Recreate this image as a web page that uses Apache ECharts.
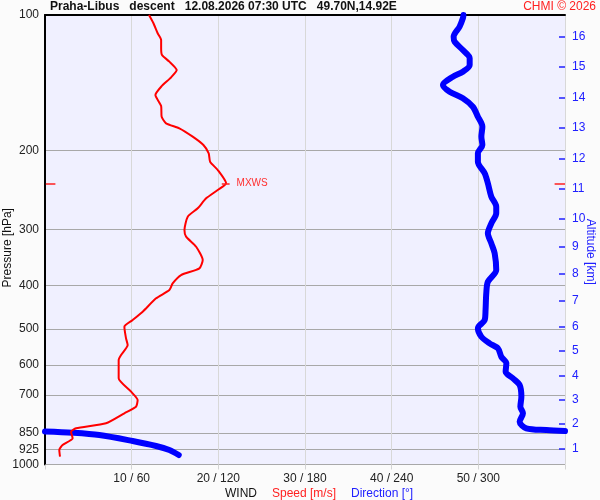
<!DOCTYPE html>
<html>
<head>
<meta charset="utf-8">
<script src="https://cdn.jsdelivr.net/npm/echarts@6/dist/echarts.min.js"></script>
<style>
  html, body { margin: 0; padding: 0; background: #fbfbfb; }
  #chart { width: 600px; height: 500px; }
</style>
</head>
<body>
<div id="chart"></div>
<script>
// wind speed profile [m/s] vs pressure [hPa]
const speedPres = [100, 104.2, 109.8, 113.7, 118.4, 122.8, 127.0, 132.6, 137.6, 144.4, 150.7, 159.4, 168.4, 174.2,
  178.7, 186.5, 194.6, 203.1, 212.0, 221.2, 236.8, 245.1, 255.8, 269.2, 281.0, 300.8, 311.3, 327.7, 350.9, 366.1,
  378.9, 395.4, 409.2, 426.9, 457.2, 477.0, 493.5, 524.0, 542.3, 570.7, 585.5, 643.2, 688.6, 718.6, 743.8, 769.4,
  809.8, 830.9, 845.4, 874.5, 905.0, 928.4, 961.0];
const speedVals = [12.0, 12.5, 13.0, 13.4, 13.4, 13.5, 14.35, 15.2, 14.55, 13.4, 12.74, 13.4, 13.46, 13.97,
  15.5, 17.04, 18.28, 18.89, 19.05, 19.93, 20.9, 19.93, 18.59, 17.62, 16.47, 16.09, 16.28, 17.44, 18.2, 17.82,
  15.7, 14.73, 14.35, 12.82, 11.27, 10.12, 9.16, 9.35, 9.54, 8.78, 8.5, 8.5, 9.93, 10.69, 10.5, 9.16,
  7.04, 3.58, 3.0, 3.19, 2.03, 1.65, 1.73];

// wind direction [deg], upper part (up to 360) and lower part (after wrap to 0)
const dirUpperPres = [100, 101.7, 106.2, 111.8, 114.7, 119.7, 124.8, 129.2, 133.7, 137.2, 143.1, 148.1, 153.2, 160.0,
  168.4, 177.2, 186.5, 194.6, 203.1, 212.0, 225.0, 236.8, 253.7, 267.0, 276.2, 290.7, 305.9, 322.1, 338.9, 369.3,
  392.2, 416.1, 453.2, 477.0, 497.7, 519.8, 537.7, 551.6, 575.6, 595.5, 621.7, 643.2, 665.7, 706.6, 743.8, 769.4,
  803.3, 830.9, 838.1, 842.5];
const dirUpperVals = [289.7, 289.3, 287.0, 282.9, 283.6, 289.3, 294.0, 294.0, 289.3, 282.4, 275.5, 280.1, 289.3, 296.2,
  299.7, 302.8, 302.1, 302.8, 299.7, 299.7, 304.4, 306.6, 309.0, 312.4, 312.4, 309.0, 306.6, 309.0, 311.3, 312.4,
  306.6, 305.5, 305.0, 304.4, 299.7, 302.1, 307.8, 313.6, 315.9, 319.4, 318.9, 324.0, 328.6, 329.8, 329.1, 330.9,
  328.6, 333.2, 347.1, 360.0];
const dirLowerPres = [844.6, 849.9, 859.9, 886.8, 909.6, 928.4, 952.6];
const dirLowerVals = [0, 19.1, 37.6, 60.7, 76.9, 86.1, 92.6];

// maximum wind
const mxwsPres = 236.8;
const mxwsSpeed = 20.9;

// axis ticks
const presTicks = [100, 200, 300, 400, 500, 600, 700, 850, 925, 1000];
const speedTicks = [10, 20, 30, 40, 50];
const altKm = [1, 2, 3, 4, 5, 6, 7, 8, 9, 10, 11, 12, 13, 14, 15, 16];
const altPres = [920.4, 811.2, 718.7, 634.6, 559.1, 493.6, 431.2, 377.0, 327.7, 283.3, 243.5, 209.1, 178.1, 153.0, 130.5, 111.9];

const FONT = 'Liberation Sans, Arial, sans-serif';

function pairs(xs, ys) {
  return ys.map((y, i) => [xs[i], y]);
}

function altLabel(v) {
  let best = 0;
  altPres.forEach((p, i) => {
    if (Math.abs(p - v) < Math.abs(altPres[best] - v)) best = i;
  });
  return String(altKm[best]);
}

const dirStyle = { color: '#0000ff', width: 6, cap: 'round', join: 'round' };

const option = {
  animation: false,
  textStyle: { fontFamily: FONT },
  title: [
    {
      text: 'Praha-Libus   descent   12.08.2026 07:30 UTC   49.70N,14.92E',
      left: 50, top: 1, padding: 0,
      textStyle: { fontSize: 12, fontWeight: 'bold', color: '#111', fontFamily: FONT },
    },
    {
      text: 'CHMI © 2026',
      right: 4, top: 1, padding: 0,
      textStyle: { fontSize: 12, fontWeight: 'normal', color: '#ff2020', fontFamily: FONT },
    },
    {
      text: '{a|WIND}   {b|Speed [m/s]}   {c|Direction [°]}',
      left: 225, top: 485, padding: 0,
      textStyle: {
        fontFamily: FONT, fontWeight: 'normal',
        rich: {
          a: { fontSize: 12, color: '#111', fontWeight: 'normal', fontFamily: FONT },
          b: { fontSize: 12, color: '#ff2020', fontWeight: 'normal', fontFamily: FONT },
          c: { fontSize: 12, color: '#2020ff', fontWeight: 'normal', fontFamily: FONT },
        },
      },
    },
  ],
  grid: {
    left: 45, top: 15, right: 35, bottom: 35.5,
    outerBoundsMode: 'none', containLabel: false,
    show: true, backgroundColor: '#f0f0ff', borderWidth: 0,
  },
  xAxis: [
    {
      type: 'value', min: 0, max: 60, interval: 10,
      axisLine: { show: false, onZero: false },
      axisTick: { show: true, length: 5, lineStyle: { color: '#d4d4d4' } },
      splitLine: { show: true, lineStyle: { color: '#d8d8d8', width: 1 } },
      axisLabel: {
        customValues: speedTicks,
        formatter: v => v + ' / ' + v * 6,
        color: '#222', fontSize: 12, margin: 8, fontFamily: FONT,
      },
    },
    {
      type: 'value', min: 0, max: 360, position: 'top',
      axisLine: { show: true, onZero: false, lineStyle: { color: '#000', width: 2 } },
      axisTick: { show: false },
      axisLabel: { show: false },
      splitLine: { show: false },
    },
  ],
  yAxis: [
    {
      type: 'log', logBase: 10, min: 100, max: 1000, inverse: true,
      name: 'Pressure [hPa]', nameLocation: 'middle', nameRotate: 90, nameGap: 31,
      nameMoveOverlap: false,
      nameTextStyle: { color: '#111', fontSize: 12, fontFamily: FONT, padding: [0, 16, 0, 0] },
      axisLine: { show: true, onZero: false, lineStyle: { color: '#000', width: 2 } },
      axisTick: { show: false, customValues: presTicks },
      splitLine: { show: true, lineStyle: { color: '#a8a8a8', width: 1 } },
      axisLabel: {
        customValues: presTicks, formatter: v => String(Math.round(v)),
        color: '#222', fontSize: 12, margin: 6, fontFamily: FONT,
      },
    },
    {
      type: 'log', logBase: 10, min: 100, max: 1000, inverse: true, position: 'right',
      name: 'Altitude [km]', nameLocation: 'middle', nameRotate: -90, nameGap: 19,
      nameMoveOverlap: false,
      nameTextStyle: { color: '#2020ff', fontSize: 12, fontFamily: FONT, padding: [0, 0, 0, 24] },
      axisLine: { show: false, onZero: false },
      axisTick: { show: true, inside: true, length: 6, customValues: altPres, lineStyle: { color: '#2020ff', width: 1.5 } },
      splitLine: { show: false },
      axisLabel: {
        customValues: altPres, formatter: altLabel,
        color: '#2020ff', fontSize: 12, margin: 7, fontFamily: FONT,
      },
    },
  ],
  series: [
    {
      name: 'Direction', type: 'line', xAxisIndex: 1, yAxisIndex: 0,
      data: pairs(dirUpperVals, dirUpperPres),
      showSymbol: false, smooth: 0.3, lineStyle: dirStyle,
    },
    {
      name: 'Direction low', type: 'line', xAxisIndex: 1, yAxisIndex: 0,
      data: pairs(dirLowerVals, dirLowerPres),
      showSymbol: false, smooth: 0.3, lineStyle: dirStyle,
    },
    {
      name: 'Speed', type: 'line', xAxisIndex: 0, yAxisIndex: 0,
      data: pairs(speedVals, speedPres),
      showSymbol: false, smooth: 0.2,
      lineStyle: { color: '#ff0000', width: 2 },
      markLine: {
        silent: true, symbol: 'none',
        lineStyle: { color: '#ff2020', width: 1.5, type: 'solid' },
        label: { show: false },
        data: [
          [
            { coord: [mxwsSpeed - 0.5, mxwsPres] },
            {
              coord: [mxwsSpeed + 0.4, mxwsPres],
              label: { show: true, position: 'end', formatter: 'MXWS', color: '#ff3030', fontSize: 10, distance: 7, fontFamily: FONT },
            },
          ],
          [{ coord: [0.1, mxwsPres] }, { coord: [1.2, mxwsPres] }],
          [{ coord: [58.8, mxwsPres] }, { coord: [60, mxwsPres] }],
        ],
      },
    },
  ],
};

const myChart = echarts.init(document.getElementById('chart'));
myChart.setOption(option);
</script>
</body>
</html>
